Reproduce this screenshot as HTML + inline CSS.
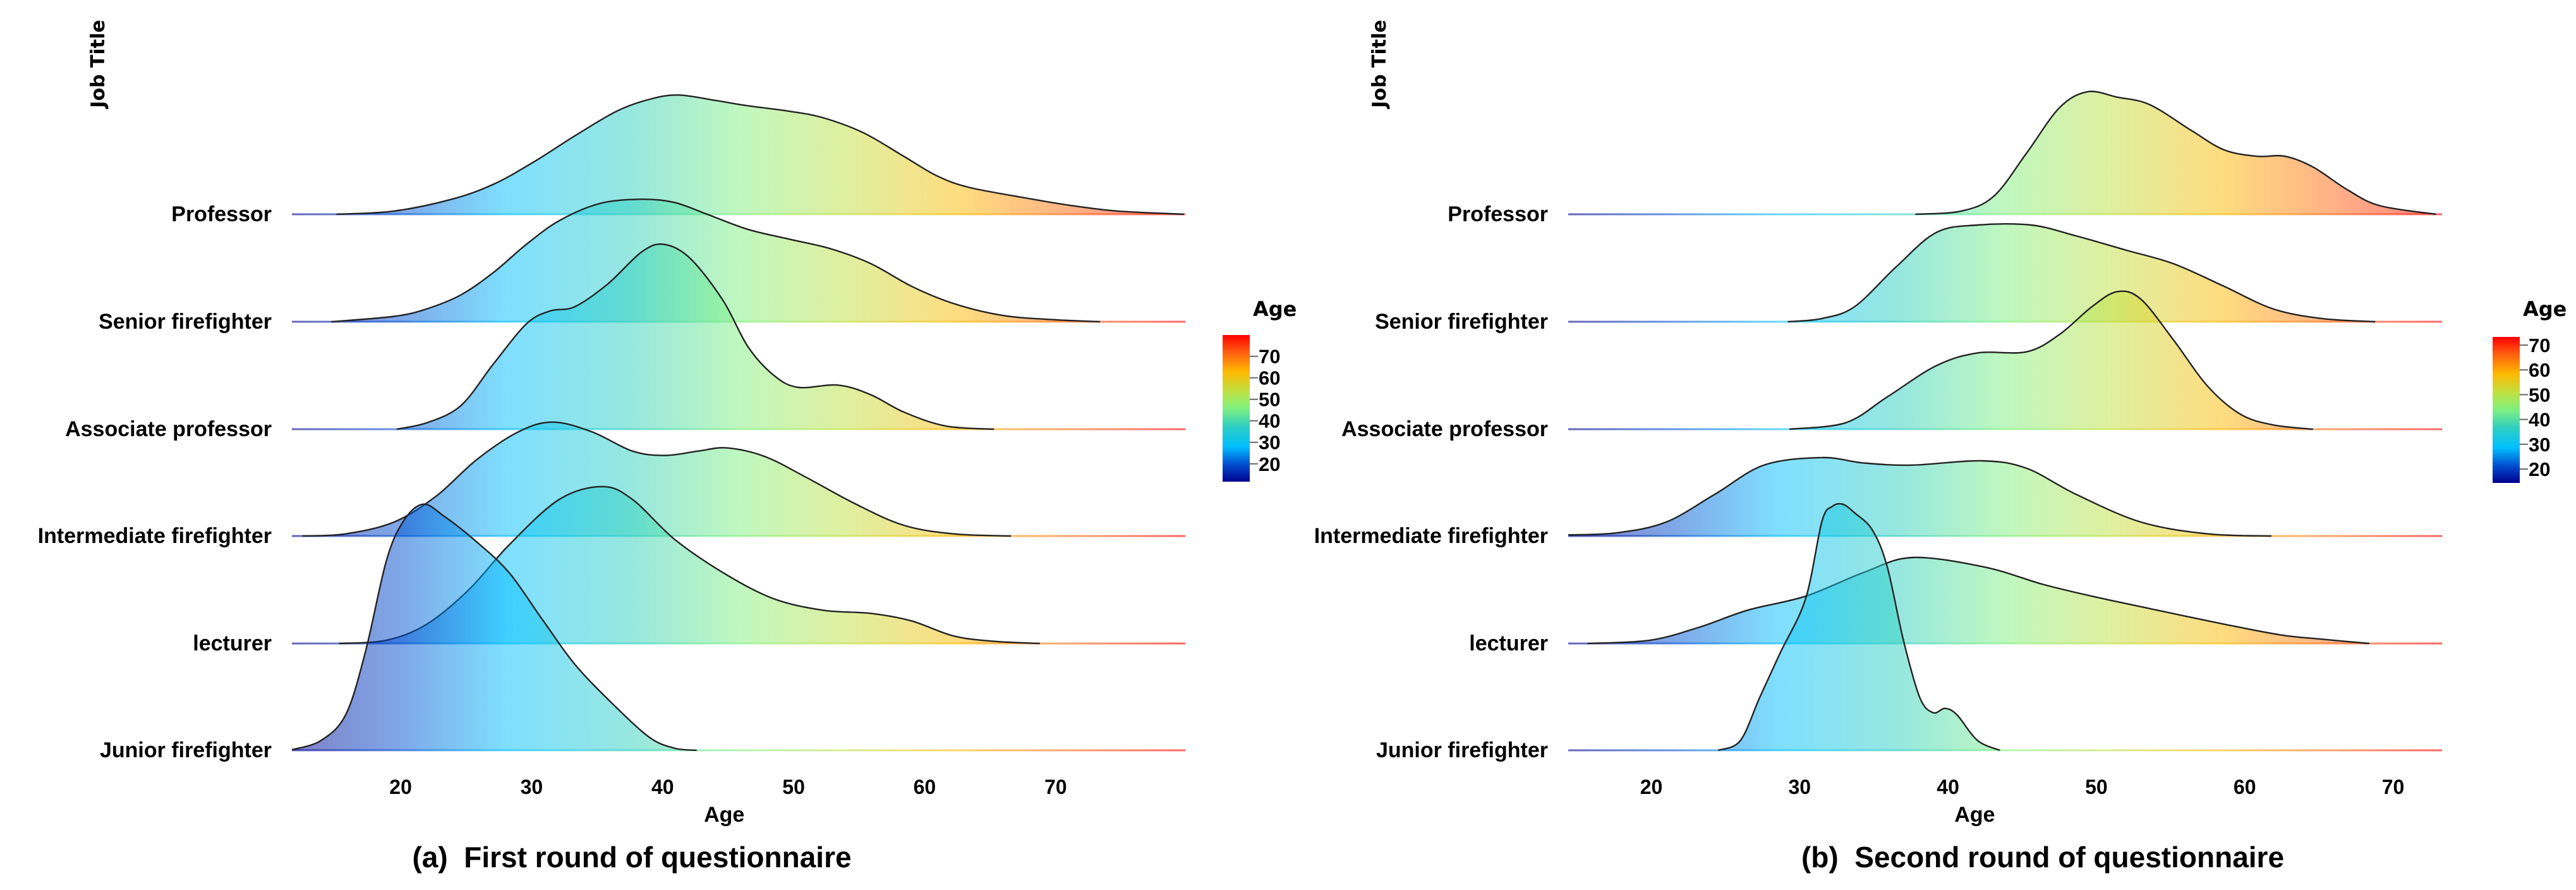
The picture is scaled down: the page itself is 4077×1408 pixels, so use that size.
<!DOCTYPE html>
<html><head><meta charset="utf-8">
<style>
html,body{margin:0;padding:0;background:#fff;}
svg{display:block;}
.lab{font-family:"Liberation Sans Narrow","Liberation Sans",sans-serif;font-weight:bold;fill:#000;white-space:pre;}
.jt{font-family:"DejaVu Sans","Liberation Sans",sans-serif;font-weight:bold;fill:#000;}
</style></head>
<body>
<svg id="chart" width="4077" height="1408" viewBox="0 0 4077 1408" xmlns="http://www.w3.org/2000/svg"></svg>
<script>
// ---- data ----
const categories = ["Professor","Senior firefighter","Associate professor","Intermediate firefighter","lecturer","Junior firefighter"];
const xTicks = [20,30,40,50,60,70];
const legendTicksA = [20,30,40,50,60,70];
const legendTicksB = [20,30,40,50,60,70];
// round 1: [age, density height in row units]
const r1Professor = [[15.1,0],[19.5,0.03],[23.9,0.14],[27.1,0.28],[30.2,0.49],[33.3,0.73],[36.5,0.96],[39.0,1.07],[41.2,1.11],[44.0,1.06],[46.5,1.01],[49.6,0.96],[52.2,0.90],[55.3,0.76],[58.4,0.54],[60.9,0.36],[63.4,0.25],[67.8,0.15],[71.0,0.085],[74.7,0.03],[79.8,0]];
const r1Senior = [[14.7,0],[19.5,0.05],[22.0,0.12],[24.6,0.25],[27.1,0.46],[29.6,0.72],[32.1,0.94],[35.2,1.10],[38.4,1.14],[40.9,1.11],[43.4,1.00],[46.5,0.86],[49.6,0.77],[52.8,0.68],[55.9,0.54],[59.0,0.33],[62.2,0.17],[65.9,0.06],[69.7,0.02],[73.4,0]];
const r1Associate = [[19.7,0],[22.0,0.06],[24.6,0.22],[27.1,0.61],[29.6,0.98],[31.4,1.10],[33.3,1.14],[35.8,1.35],[38.4,1.65],[40.1,1.72],[42.1,1.59],[44.6,1.20],[46.5,0.77],[48.4,0.51],[50.3,0.39],[53.4,0.41],[55.9,0.32],[58.4,0.16],[61.6,0.03],[65.3,0]];
const r1Intermediate = [[12.5,0],[15.8,0.02],[19.5,0.13],[22.7,0.37],[25.8,0.71],[29.0,0.97],[31.6,1.06],[34.6,0.97],[37.7,0.79],[40.2,0.75],[42.7,0.79],[44.9,0.82],[47.8,0.74],[50.9,0.55],[54.7,0.30],[58.4,0.10],[62.2,0.02],[66.6,0]];
const r1Lecturer = [[15.3,0],[18.9,0.03],[22.0,0.18],[25.2,0.50],[28.3,0.92],[32.1,1.34],[35.4,1.46],[37.7,1.34],[40.9,0.97],[44.6,0.66],[48.4,0.42],[52.2,0.31],[55.9,0.28],[59.0,0.21],[62.2,0.07],[65.3,0.02],[68.8,0]];
const r1Junior = [[11.7,0.005],[13.9,0.09],[15.8,0.33],[17.3,0.91],[18.9,1.76],[20.2,2.13],[21.7,2.29],[23.3,2.18],[25.8,1.94],[28.3,1.65],[30.8,1.22],[33.3,0.80],[36.2,0.43],[39.0,0.12],[40.9,0.02],[42.6,0]];
// round 2
const r2Professor = [[37.8,0],[40.9,0.03],[43.1,0.17],[45.3,0.57],[47.5,0.99],[49.4,1.14],[51.4,1.09],[53.6,1.02],[56.4,0.78],[58.6,0.60],[60.8,0.54],[62.7,0.54],[64.6,0.44],[66.9,0.23],[69.1,0.08],[72.9,0]];
const r2Senior = [[29.2,0],[31.5,0.03],[33.7,0.14],[36.5,0.51],[39.2,0.83],[42.0,0.90],[45.6,0.90],[48.6,0.80],[51.9,0.67],[55.2,0.54],[58.6,0.33],[61.9,0.12],[65.2,0.03],[68.8,0]];
const r2Associate = [[29.3,0],[33.1,0.06],[35.9,0.30],[39.2,0.59],[42.0,0.71],[45.3,0.72],[47.5,0.88],[49.7,1.14],[51.4,1.28],[53.0,1.21],[55.2,0.83],[57.5,0.40],[59.7,0.14],[61.9,0.04],[64.6,0]];
const r2Intermediate = [[14.4,0.01],[17.7,0.03],[21.0,0.13],[24.3,0.39],[27.6,0.66],[31.5,0.73],[34.3,0.68],[37.6,0.66],[42.3,0.70],[45.3,0.63],[48.6,0.39],[53.0,0.13],[57.5,0.02],[61.8,0]];
const r2Lecturer = [[15.7,0],[19.9,0.03],[23.2,0.15],[26.5,0.31],[30.4,0.44],[34.3,0.66],[37.6,0.80],[42.5,0.71],[46.4,0.55],[49.7,0.44],[54.1,0.31],[58.6,0.18],[62.4,0.08],[65.2,0.04],[68.4,0]];
const r2Junior = [[24.5,0],[26.0,0.09],[27.3,0.49],[28.7,0.91],[30.4,1.41],[31.5,2.13],[32.2,2.27],[32.9,2.29],[33.7,2.21],[34.9,2.05],[35.9,1.71],[37.0,1.02],[38.1,0.49],[39.0,0.35],[39.8,0.39],[40.6,0.33],[42.0,0.09],[43.5,0]];

const NS="http://www.w3.org/2000/svg";
const svg=document.getElementById('chart');
function mk(tag,attrs,parent){const e=document.createElementNS(NS,tag);for(const k in attrs)e.setAttribute(k,attrs[k]);(parent||svg).appendChild(e);return e;}
const stops=[[0,'#00008f'],[0.12,'#0050d0'],[0.24,'#00bfff'],[0.38,'#30d0c0'],[0.5,'#80f080'],[0.62,'#c0e040'],[0.75,'#ffb800'],[0.88,'#ff6010'],[1,'#ff0000']];
const defs=mk('defs',{});
function grad(id,x1,y1,x2,y2){const g=mk('linearGradient',{id:id,gradientUnits:'userSpaceOnUse',x1:x1,y1:y1,x2:x2,y2:y2},defs);stops.forEach(s=>mk('stop',{offset:s[0],'stop-color':s[1]},g));}

function smooth(pts){let d='';for(let i=0;i<pts.length-1;i++){const p0=pts[Math.max(0,i-1)],p1=pts[i],p2=pts[i+1],p3=pts[Math.min(pts.length-1,i+2)];
const c1x=p1[0]+(p2[0]-p0[0])/6,c1y=p1[1]+(p2[1]-p0[1])/6,c2x=p2[0]-(p3[0]-p1[0])/6,c2y=p2[1]-(p3[1]-p1[1])/6;
d+=` C${c1x.toFixed(1)},${c1y.toFixed(1)} ${c2x.toFixed(1)},${c2y.toFixed(1)} ${p2[0].toFixed(1)},${p2[1].toFixed(1)}`;}return d;}

const baselines=[339,509,679,848,1018,1187];
const rowUnit=170;

function panel(cfg){
  const g=mk('g',{});
  
  
  const X=a=>cfg.x0+(a-cfg.amin)/(cfg.amax-cfg.amin)*(cfg.x1-cfg.x0);
  const Y=(i,h)=>baselines[i]-h*rowUnit;
  grad(cfg.id+'g',cfg.x0,0,cfg.x1,0);
  cfg.series.forEach((s,i)=>{
    const bl=mk('line',{x1:cfg.x0,x2:cfg.x1,y1:baselines[i],y2:baselines[i],stroke:`url(#${cfg.id}g)`,'stroke-width':3,'stroke-opacity':0.6},g);
    
    
    const pts=s.map(p=>[X(p[0]),Y(i,p[1])]);
    const top=`M${pts[0][0].toFixed(1)},${pts[0][1].toFixed(1)}`+smooth(pts);
    const area=mk('path',{d:top+` L${pts[pts.length-1][0].toFixed(1)},${baselines[i]} L${pts[0][0].toFixed(1)},${baselines[i]} Z`,fill:`url(#${cfg.id}g)`,'fill-opacity':0.5,stroke:'none'},g);
    
    
    const ln=mk('path',{d:top,fill:'none',stroke:'#222','stroke-width':2.4},g);
    
    
    const t=mk('text',{x:cfg.labelX,y:baselines[i]+11,'text-anchor':'end','font-size':34,class:'lab'},g);
    t.textContent=categories[i];
    
    
  });
  xTicks.forEach(v=>{const t=mk('text',{x:X(v),y:1256,'text-anchor':'middle','font-size':32,class:'lab'},g);t.textContent=v;
    
    });
  const xt=mk('text',{x:X(cfg.titleAge),y:1300,'text-anchor':'middle','font-size':34,class:'lab'},g);xt.textContent='Age';
  
  
  const jt=mk('text',{transform:`translate(${cfg.jtX},101) rotate(-90)`,'text-anchor':'middle','font-size':30,class:'jt'},g);jt.textContent='Job Title';
  
  
  const cap=mk('text',{x:cfg.capX,y:1372,'text-anchor':'middle','font-size':46,class:'lab'},g);cap.textContent=cfg.caption;
  
  
  // legend
  grad(cfg.id+'v',0,cfg.lb,0,cfg.lt);
  const lgT=mk('text',{x:cfg.lx,y:500,'font-size':32,class:'jt'},g);lgT.textContent='Age';
  
  
  const bar=mk('rect',{x:cfg.lx-48,y:cfg.lt,width:43,height:cfg.lb-cfg.lt,fill:`url(#${cfg.id}v)`},g);
  
  
  const LY=a=>cfg.lb-(a-cfg.amin)/(cfg.amax-cfg.amin)*(cfg.lb-cfg.lt);
  cfg.lticks.forEach(v=>{const y=LY(v);mk('line',{x1:cfg.lx-5,x2:cfg.lx+8,y1:y,y2:y,stroke:'#666','stroke-width':2},g);
    const t=mk('text',{x:cfg.lx+9,y:y+11,'font-size':31,class:'lab'},g);t.textContent=v;
    
    });
}
panel({name:'panel-a-first-round',id:'a',x0:462,x1:1876,amin:11.7,amax:79.9,labelX:430,series:[r1Professor,r1Senior,r1Associate,r1Intermediate,r1Lecturer,r1Junior],
  titleAge:44.7,jtX:165,capX:1000,caption:'(a)\u00a0\u00a0First round of questionnaire',lx:1983,lt:530,lb:762,lticks:legendTicksA});
panel({name:'panel-b-second-round',id:'b',x0:2482,x1:3865,amin:14.4,amax:73.3,labelX:2450,series:[r2Professor,r2Senior,r2Associate,r2Intermediate,r2Lecturer,r2Junior],
  titleAge:41.8,jtX:2193,capX:3233,caption:'(b)\u00a0\u00a0Second round of questionnaire',lx:3993,lt:533,lb:764,lticks:legendTicksB});
</script>
</body></html>
